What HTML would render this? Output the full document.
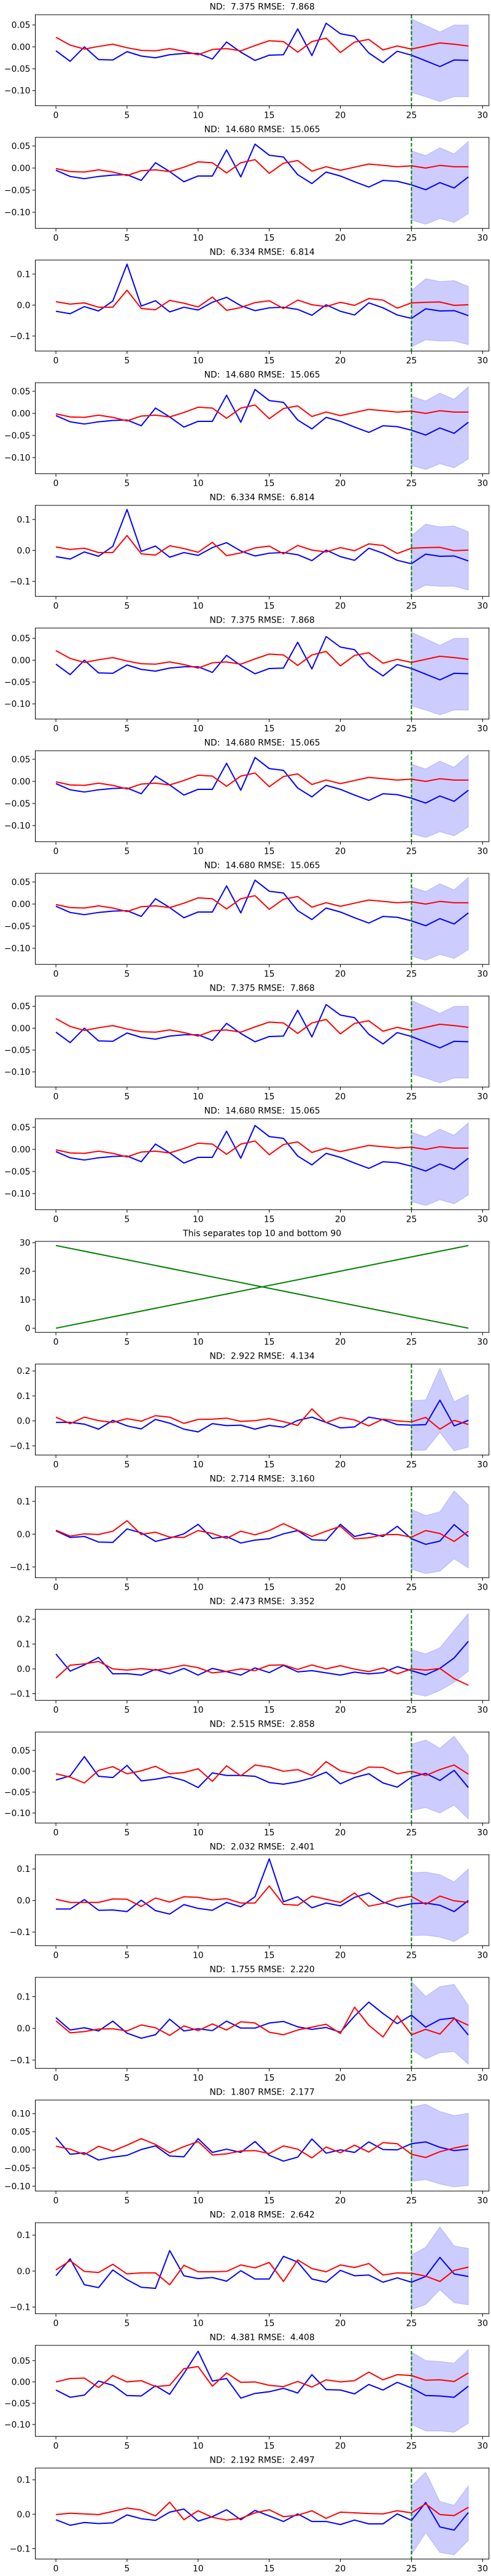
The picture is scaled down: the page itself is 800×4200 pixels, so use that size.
<!DOCTYPE html>
<html><head><meta charset="utf-8"><style>
html,body{margin:0;padding:0;background:#fff;}
svg{display:block;}
text{font-family:"DejaVu Sans","Liberation Sans",sans-serif;font-size:13.9px;fill:#000;white-space:pre;}
</style></head>
<body>
<svg id="fig" width="800" height="4200" viewBox="0 0 800 4200" xmlns="http://www.w3.org/2000/svg" xml:space="preserve"></svg>
<script>
// ---- data ----
const xIndex = [0,1,2,3,4,5,6,7,8,9,10,11,12,13,14,15,16,17,18,19,20,21,22,23,24,25,26,27,28,29];
const xTicks = [0,5,10,15,20,25,30];
const forecastStart = 25;
const bandX = [25,26,27,28,29];

const blueA = [-0.009,-0.033,0.000,-0.029,-0.030,-0.011,-0.021,-0.025,-0.018,-0.015,-0.015,-0.028,0.011,-0.012,-0.031,-0.019,-0.018,0.041,-0.020,0.054,0.030,0.024,-0.014,-0.036,-0.010,-0.019,-0.032,-0.045,-0.030,-0.031];
const redA = [0.022,0.004,-0.005,0.001,0.006,-0.002,-0.008,-0.009,-0.004,-0.010,-0.018,-0.006,-0.004,-0.009,0.003,0.014,0.012,-0.012,0.012,0.020,-0.013,0.011,0.017,-0.007,0.002,-0.005,0.002,0.009,0.006,0.002];
const upA = [0.064,0.049,0.034,0.050,0.050];
const loA = [-0.104,-0.114,-0.125,-0.114,-0.114];

const blueB = [-0.005,-0.019,-0.024,-0.019,-0.016,-0.015,-0.028,0.012,-0.008,-0.031,-0.018,-0.018,0.041,-0.020,0.054,0.029,0.025,-0.015,-0.035,-0.009,-0.018,-0.031,-0.043,-0.028,-0.030,-0.038,-0.049,-0.033,-0.045,-0.020];
const redB = [-0.001,-0.008,-0.009,-0.004,-0.009,-0.017,-0.006,-0.004,-0.008,0.002,0.014,0.012,-0.011,0.012,0.019,-0.012,0.011,0.017,-0.007,0.003,-0.005,0.002,0.009,0.006,0.003,0.005,0.000,0.006,0.003,0.003];
const upB = [0.039,0.028,0.046,0.032,0.060];
const loB = [-0.118,-0.127,-0.114,-0.123,-0.103];

const blueC = [-0.020,-0.028,-0.005,-0.019,0.013,0.132,-0.003,0.014,-0.022,-0.007,-0.016,0.009,0.025,-0.002,-0.018,-0.009,-0.007,-0.014,-0.033,0.001,-0.020,-0.032,0.007,-0.009,-0.032,-0.043,-0.012,-0.019,-0.018,-0.034];
const redC = [0.011,0.003,0.007,-0.007,-0.007,0.048,-0.011,-0.015,0.015,0.006,-0.006,0.026,-0.017,-0.008,0.008,0.014,-0.011,0.016,0.001,-0.005,0.009,-0.001,0.021,0.016,-0.010,0.007,0.009,0.010,-0.001,0.001];
const upC = [0.047,0.085,0.076,0.079,0.060];
const loC = [-0.135,-0.112,-0.116,-0.116,-0.128];

const sepUp = [0,29];
const sepDown = [29,0];
const sepX = [0,29];

const blueD = [-0.006,-0.006,-0.013,-0.033,0.002,-0.020,-0.032,0.006,-0.009,-0.033,-0.044,-0.011,-0.019,-0.017,-0.033,-0.018,-0.025,0.002,0.015,-0.006,-0.028,-0.024,0.015,0.005,-0.015,-0.017,-0.015,0.083,-0.020,0.002];
const redD = [0.015,-0.011,0.015,0.001,-0.006,0.009,-0.001,0.021,0.015,-0.010,0.006,0.007,0.011,-0.002,0.001,0.009,-0.003,-0.018,0.048,-0.007,0.014,0.004,-0.020,0.007,0.000,-0.004,0.014,-0.033,0.002,-0.014];
const upD = [0.081,0.084,0.211,0.077,0.105];
const loD = [-0.118,-0.117,-0.046,-0.120,-0.105];

const blueE = [0.010,-0.010,-0.007,-0.024,-0.025,0.016,0.004,-0.022,-0.012,0.001,0.030,-0.013,-0.007,-0.027,-0.018,-0.014,0.001,0.011,-0.017,-0.019,0.030,-0.007,0.003,-0.007,0.024,-0.014,-0.031,-0.021,0.029,-0.007];
const redE = [0.012,-0.006,0.001,-0.001,0.009,0.041,-0.001,0.006,-0.009,-0.010,0.011,0.002,-0.013,0.009,-0.002,0.011,0.032,0.012,-0.007,0.009,0.024,-0.014,-0.011,-0.002,-0.001,-0.009,0.011,0.002,-0.022,0.009];
const upE = [0.075,0.057,0.068,0.132,0.089];
const loE = [-0.107,-0.120,-0.113,-0.075,-0.103];

const blueF = [0.060,-0.009,0.016,0.046,-0.020,-0.019,-0.025,-0.002,-0.020,0.002,-0.025,0.002,-0.011,-0.025,0.004,-0.015,0.014,-0.012,-0.007,-0.016,-0.025,-0.013,-0.020,-0.015,0.009,-0.007,-0.024,0.002,0.044,0.111];
const redF = [-0.037,0.015,0.020,0.030,0.000,-0.005,0.001,-0.005,0.003,0.015,0.005,-0.016,-0.010,0.000,-0.007,0.015,0.016,-0.002,0.016,0.000,0.013,-0.001,-0.011,0.004,-0.020,0.000,-0.005,0.002,-0.039,-0.066];
const upF = [0.077,0.061,0.085,0.155,0.223];
const loF = [-0.098,-0.110,-0.087,-0.054,-0.009];

const blueG = [-0.021,-0.011,0.035,-0.012,-0.015,0.014,-0.023,-0.019,-0.013,-0.022,-0.039,-0.004,-0.010,-0.010,-0.012,-0.027,-0.031,-0.025,-0.016,-0.002,-0.030,-0.015,-0.006,-0.028,-0.038,-0.014,-0.005,-0.022,0.002,-0.039];
const redG = [-0.006,-0.014,-0.028,0.002,0.011,-0.006,0.001,0.012,-0.006,-0.003,0.006,-0.024,0.013,-0.011,0.015,0.010,0.000,0.004,-0.010,0.023,0.001,-0.006,0.010,0.009,-0.006,0.000,-0.010,0.004,0.015,-0.007];
const upG = [0.065,0.075,0.055,0.084,0.037];
const loG = [-0.094,-0.087,-0.100,-0.081,-0.114];

const blueH = [-0.027,-0.027,0.003,-0.031,-0.030,-0.035,0.001,-0.032,-0.043,-0.013,-0.025,-0.031,-0.006,-0.020,0.012,0.132,-0.004,0.012,-0.023,-0.008,-0.017,0.010,0.024,-0.005,-0.020,-0.010,-0.008,-0.015,-0.035,0.000];
const redH = [0.004,-0.006,-0.006,-0.006,0.005,0.004,-0.019,0.008,-0.005,0.012,0.010,0.002,0.006,-0.008,-0.008,0.046,-0.012,-0.015,0.014,0.004,-0.006,0.024,-0.018,-0.009,0.007,0.013,-0.012,0.014,-0.001,-0.006];
const upH = [0.088,0.090,0.082,0.059,0.100];
const loH = [-0.111,-0.110,-0.116,-0.130,-0.103];

const blueI = [0.034,-0.005,0.002,-0.008,0.023,-0.015,-0.031,-0.020,0.029,-0.008,-0.001,-0.007,0.023,0.001,0.001,0.017,0.022,0.005,-0.003,0.003,-0.012,0.039,0.083,0.047,0.015,0.042,0.004,0.028,0.033,-0.021];
const redI = [0.024,-0.014,-0.010,-0.002,-0.001,-0.008,0.011,0.002,-0.022,0.008,-0.007,0.014,-0.005,0.021,0.017,-0.012,-0.020,-0.005,0.004,0.013,-0.016,0.067,0.010,-0.027,0.040,-0.020,-0.003,-0.018,0.031,0.010];
const upI = [0.148,0.101,0.132,0.139,0.073];
const loI = [-0.067,-0.096,-0.077,-0.073,-0.113];

const blueJ = [0.034,-0.012,-0.008,-0.028,-0.020,-0.015,0.001,0.011,-0.017,-0.019,0.031,-0.007,0.002,-0.007,0.023,-0.015,-0.031,-0.020,0.030,-0.009,0.000,-0.007,0.022,0.001,0.000,0.017,0.022,0.007,-0.002,0.002];
const redJ = [0.010,0.002,-0.013,0.010,-0.003,0.013,0.031,0.015,-0.008,0.009,0.023,-0.014,-0.011,-0.003,-0.002,-0.010,0.011,0.002,-0.022,0.008,-0.008,0.013,-0.006,0.020,0.017,-0.012,-0.021,-0.005,0.005,0.013];
const upJ = [0.118,0.126,0.106,0.095,0.101];
const loJ = [-0.087,-0.082,-0.094,-0.102,-0.098];

const blueK = [-0.013,0.034,-0.038,-0.046,0.003,-0.024,-0.045,-0.048,0.057,-0.013,-0.021,-0.018,-0.028,0.001,-0.022,-0.022,0.041,0.025,-0.022,-0.031,0.002,-0.013,-0.011,-0.031,-0.019,-0.031,-0.015,0.038,-0.008,-0.015];
const redK = [0.003,0.029,-0.001,-0.004,0.019,-0.008,-0.005,-0.005,-0.038,0.016,-0.002,-0.002,-0.001,0.017,0.009,0.024,-0.029,0.031,0.007,-0.002,0.017,0.010,0.021,-0.011,-0.005,-0.006,-0.014,-0.029,0.002,0.011];
const upK = [0.045,0.066,0.123,0.070,0.063];
const loK = [-0.107,-0.093,-0.052,-0.088,-0.094];

const blueL = [-0.019,-0.036,-0.031,0.002,-0.008,-0.032,-0.033,-0.009,-0.029,0.020,0.072,0.002,0.008,-0.038,-0.027,-0.023,-0.015,-0.026,0.017,-0.018,-0.019,-0.028,-0.006,-0.019,-0.001,-0.014,-0.032,-0.033,-0.036,-0.010];
const redL = [0.000,0.008,0.009,-0.013,0.015,0.000,0.003,-0.011,-0.008,0.031,0.036,-0.010,0.021,-0.001,0.000,-0.008,-0.011,0.001,-0.012,0.005,0.000,0.003,0.023,0.005,0.017,0.015,0.004,0.005,0.001,0.021];
const upL = [0.070,0.050,0.048,0.044,0.076];
const loL = [-0.100,-0.115,-0.115,-0.118,-0.097];

const blueM = [-0.016,-0.032,-0.024,-0.027,-0.025,-0.002,-0.013,-0.018,0.006,0.015,-0.020,-0.007,0.013,-0.016,0.011,-0.005,-0.021,0.001,-0.021,-0.021,-0.030,-0.017,-0.028,-0.028,0.001,-0.018,0.034,-0.037,-0.046,0.005];
const redM = [-0.001,0.003,0.001,-0.001,0.008,0.018,0.012,-0.005,0.035,-0.016,0.010,-0.009,-0.017,-0.012,0.004,0.013,-0.007,-0.003,0.010,-0.012,0.006,0.004,0.002,0.001,0.010,0.004,0.030,-0.001,-0.004,0.020];
const upM = [0.082,0.122,0.037,0.026,0.082];
const loM = [-0.117,-0.054,-0.111,-0.118,-0.076];

const titles = ["ND:  7.375 RMSE:  7.868","ND:  14.680 RMSE:  15.065","ND:  6.334 RMSE:  6.814","ND:  14.680 RMSE:  15.065","ND:  6.334 RMSE:  6.814","ND:  7.375 RMSE:  7.868","ND:  14.680 RMSE:  15.065","ND:  14.680 RMSE:  15.065","ND:  7.375 RMSE:  7.868","ND:  14.680 RMSE:  15.065","This separates top 10 and bottom 90","ND:  2.922 RMSE:  4.134","ND:  2.714 RMSE:  3.160","ND:  2.473 RMSE:  3.352","ND:  2.515 RMSE:  2.858","ND:  2.032 RMSE:  2.401","ND:  1.755 RMSE:  2.220","ND:  1.807 RMSE:  2.177","ND:  2.018 RMSE:  2.642","ND:  4.381 RMSE:  4.408","ND:  2.192 RMSE:  2.497"];
const ticks2 = [0.05,0.00,-0.05,-0.10];
const ticks1 = [0.1,0.0,-0.1];
const ticks1b = [0.2,0.1,0.0,-0.1];
const ticks2b = [0.10,0.05,0.00,-0.05,-0.10];
const ticksSep = [0,10,20,30];
const yTickSets = [ticks2,ticks2,ticks1,ticks2,ticks1,ticks2,ticks2,ticks2,ticks2,ticks2,ticksSep,ticks1b,ticks1,ticks1b,ticks2,ticks1,ticks1,ticks2b,ticks1,ticks2,ticks1];
const tickDecimals = [2,2,1,2,1,2,2,2,2,2,0,1,1,1,2,1,1,2,1,2,1];
const blueSets = [blueA,blueB,blueC,blueB,blueC,blueA,blueB,blueB,blueA,blueB,null,blueD,blueE,blueF,blueG,blueH,blueI,blueJ,blueK,blueL,blueM];
const redSets = [redA,redB,redC,redB,redC,redA,redB,redB,redA,redB,null,redD,redE,redF,redG,redH,redI,redJ,redK,redL,redM];
const upSets = [upA,upB,upC,upB,upC,upA,upB,upB,upA,upB,null,upD,upE,upF,upG,upH,upI,upJ,upK,upL,upM];
const loSets = [loA,loB,loC,loB,loC,loA,loB,loB,loA,loB,null,loD,loE,loF,loG,loH,loI,loJ,loK,loL,loM];

// ---- drawing ----
const NS = "http://www.w3.org/2000/svg";
const svg = document.getElementById('fig');
const AX_L = 57.5, AX_R = 796.7, PANEL_H = 200, AX_T = 24, AX_B = 172.3;
const XMIN = -1.45, XMAX = 30.45;
function el(tag, attrs, parent){ const e=document.createElementNS(NS,tag); for(const k in attrs) e.setAttribute(k,attrs[k]); parent.appendChild(e); return e; }
function xs(v){ return AX_L + (v - XMIN)/(XMAX - XMIN)*(AX_R-AX_L); }
function fmt(v,d){ const s=Math.abs(v).toFixed(d); return (v<0 && Math.abs(v)>1e-12 ? "\u2212" : "") + s; }

for (let i=0;i<21;i++){
  const off = i*PANEL_H;
  const g = el('g',{},svg);
  
  
  let vals = [];
  const isSep = blueSets[i]===null;
  if (isSep) { vals = sepUp.concat(sepDown); }
  else { vals = blueSets[i].concat(redSets[i], upSets[i], loSets[i]); }
  let mn=Math.min(...vals), mx=Math.max(...vals);
  const pad=(mx-mn)*0.05; mn-=pad; mx+=pad;
  const top=off+AX_T, bot=off+AX_B;
  const ys = v => bot - (v-mn)/(mx-mn)*(bot-top);

  // title
  const t = el('text',{x:(AX_L+AX_R)/2, y:off+15.5, 'text-anchor':'middle'},g);
  t.textContent = titles[i];
  
  

  // clip
  const cid='clip'+i;
  const cp = el('clipPath',{id:cid},g);
  el('rect',{x:AX_L,y:top,width:AX_R-AX_L,height:bot-top},cp);
  const plot = el('g',{'clip-path':'url(#'+cid+')'},g);

  if (isSep){
    const p1 = el('path',{d:sepX.map((x,k)=>(k?'L':'M')+xs(x)+' '+ys(sepUp[k])).join(' '),fill:'none',stroke:'#008000','stroke-width':2},plot);
    
    
    const p2 = el('path',{d:sepX.map((x,k)=>(k?'L':'M')+xs(x)+' '+ys(sepDown[k])).join(' '),fill:'none',stroke:'#008000','stroke-width':2},plot);
    
    
  } else {
    const up=upSets[i], lo=loSets[i];
    let d = bandX.map((x,k)=>(k?'L':'M')+xs(x)+' '+ys(up[k])).join(' ');
    for (let k=bandX.length-1;k>=0;k--) d += ' L'+xs(bandX[k])+' '+ys(lo[k]);
    const band = el('path',{d:d+' Z',fill:'#0000ff','fill-opacity':0.2,stroke:'#0000ff','stroke-opacity':0.2,'stroke-width':1},plot);
    
    
    const b = blueSets[i], r = redSets[i];
    const bl = el('path',{d:xIndex.map((x,k)=>(k?'L':'M')+xs(x)+' '+ys(b[k])).join(' '),fill:'none',stroke:'#0000ff','stroke-width':2,'stroke-linejoin':'round'},plot);
    
    
    const rl = el('path',{d:xIndex.map((x,k)=>(k?'L':'M')+xs(x)+' '+ys(r[k])).join(' '),fill:'none',stroke:'#ff0000','stroke-width':2,'stroke-linejoin':'round'},plot);
    
    
    const vl = el('line',{x1:xs(forecastStart),x2:xs(forecastStart),y1:top,y2:bot,stroke:'#008000','stroke-width':2,'stroke-dasharray':'6,3'},plot);
    
    
  }

  // frame
  const fr = el('rect',{x:AX_L,y:top,width:AX_R-AX_L,height:bot-top,fill:'none',stroke:'#000','stroke-width':1},g);
  
  

  // x ticks
  xTicks.forEach(v=>{
    const x=xs(v);
    el('line',{x1:x,x2:x,y1:bot,y2:bot+4.9,stroke:'#000','stroke-width':1},g);
    const tl = el('text',{x:x,y:bot+20,'text-anchor':'middle'},g);
    tl.textContent = String(v);
    
    
  });
  // y ticks
  yTickSets[i].forEach(v=>{
    const y=ys(v);
    if (y<top-0.5 || y>bot+0.5) return;
    el('line',{x1:AX_L-4.9,x2:AX_L,y1:y,y2:y,stroke:'#000','stroke-width':1},g);
    const tl = el('text',{x:AX_L-8,y:y+5,'text-anchor':'end'},g);
    tl.textContent = fmt(v,tickDecimals[i]);
    
    
  });
}
</script>
</body></html>
